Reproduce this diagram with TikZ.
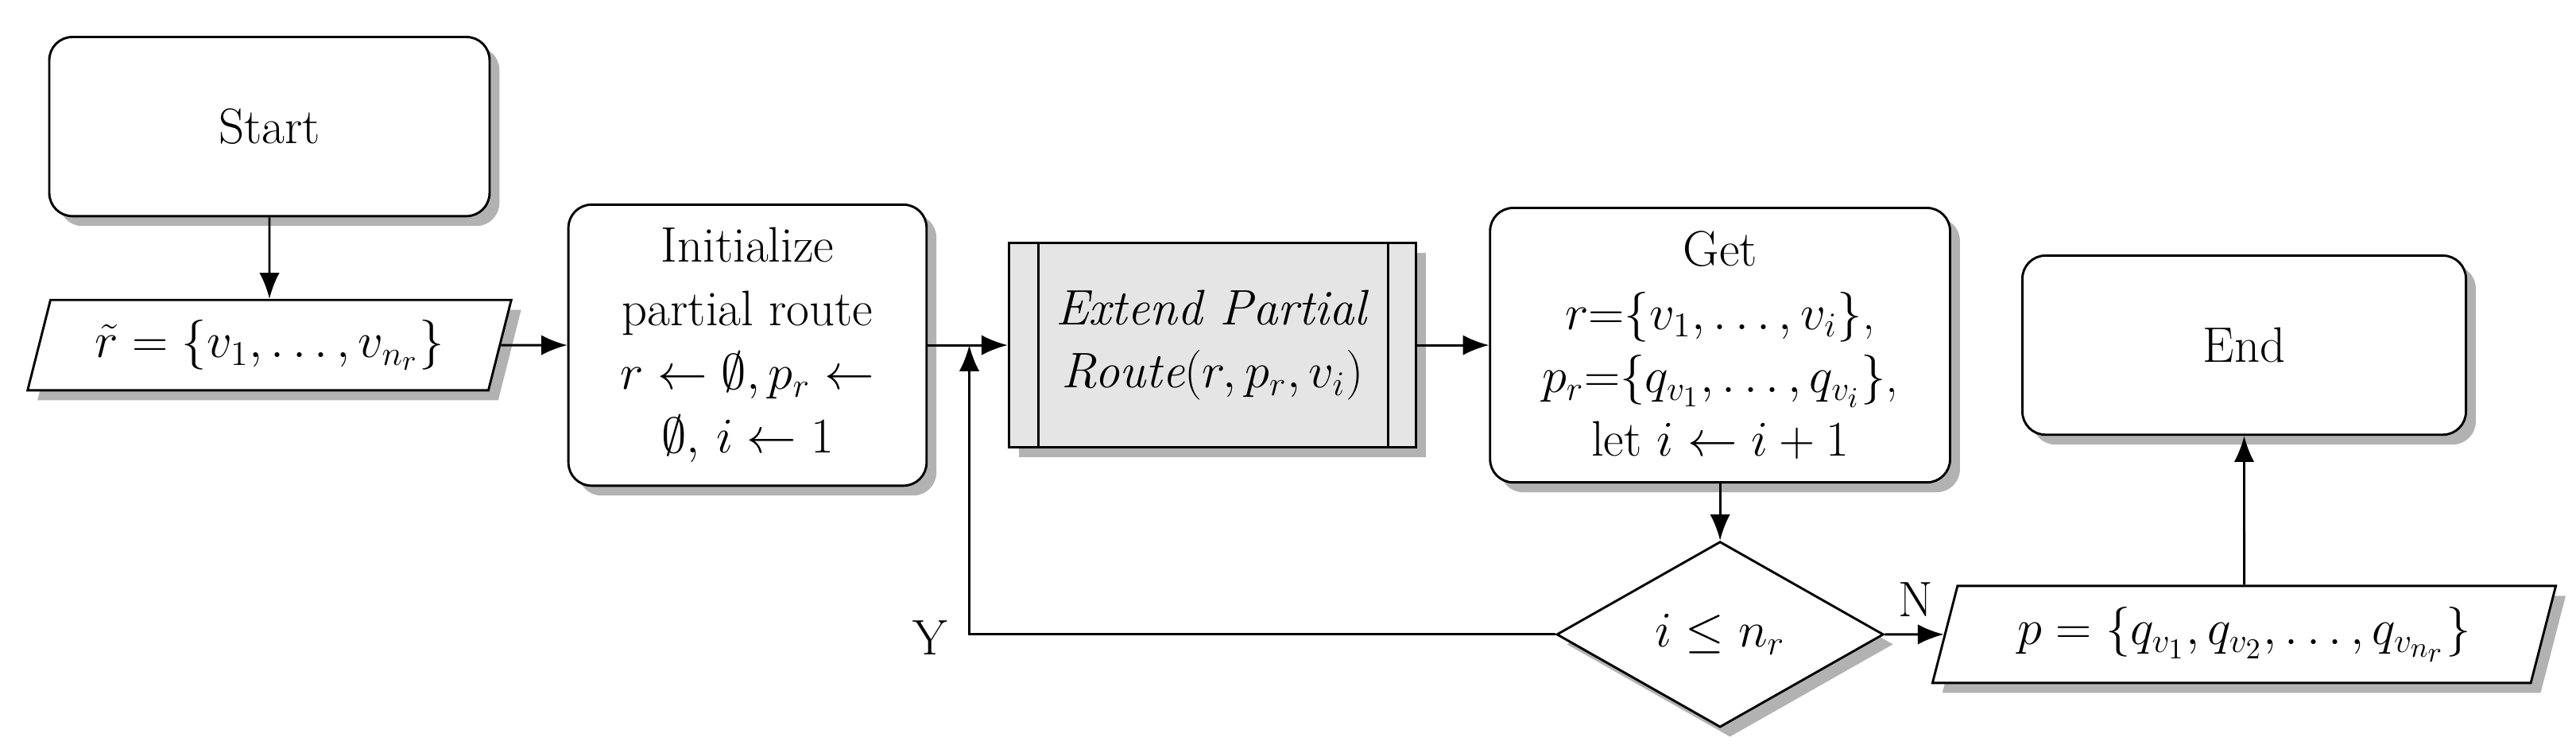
\documentclass[tikz,border=0pt]{standalone}
\usetikzlibrary{shapes.geometric,shadows,arrows.meta}
\begin{document}
\begin{tikzpicture}[x=0.02cm,y=-0.02cm,
 sh/.style={drop shadow={shadow xshift=0.12cm,shadow yshift=-0.12cm,fill=black!30,opacity=1}},
 box/.style={draw,thick,rounded corners=8pt,fill=white,sh,align=center,font=\LARGE,inner sep=0pt},
 io/.style={draw,thick,trapezium,trapezium left angle=70,trapezium right angle=110,trapezium stretches=true,fill=white,sh,font=\LARGE,inner sep=0pt},
 arr/.style={thick,-{Latex[length=9pt,width=7pt]}}]
\useasboundingbox (0,0) rectangle (1568,458);
\node[box,minimum width=268*0.02cm,minimum height=109*0.02cm] (start) at (164,77) {Start};
\node[io,minimum width=295*0.02cm,minimum height=55*0.02cm] (in) at (164,210) {$\tilde r=\{v_1,\ldots,v_{n_r}\}$};
\node[box,minimum width=218*0.02cm,minimum height=171*0.02cm] (init) at (455,210) {Initialize\\partial route\\$r\leftarrow\emptyset,p_r\leftarrow$\\$\emptyset,\,i\leftarrow1$};
\node[draw,thick,fill=black!10,sh,minimum width=248*0.02cm,minimum height=124*0.02cm,align=center,font=\LARGE] (ext) at (738,210) {\textit{Extend Partial}\\\textit{Route}$(r,p_r,v_i)$};
\draw[thick] (632,148) -- (632,272) (845,148) -- (845,272);
\node[box,minimum width=280*0.02cm,minimum height=167*0.02cm] (get) at (1047,210) {Get\\$r{=}\{v_1,\ldots,v_i\}$,\\$p_r{=}\{q_{v_1},\ldots,q_{v_i}\}$,\\let $i\leftarrow i+1$};
\node[box,minimum width=270*0.02cm,minimum height=109*0.02cm] (end) at (1366,210) {End};
\node[draw,thick,diamond,aspect=1.76,fill=white,sh,minimum width=199*0.02cm,minimum height=113*0.02cm,inner sep=0pt,font=\LARGE] (dec) at (1047,386) {$i\leq n_r$};
\node[io,minimum width=380*0.02cm,minimum height=59*0.02cm] (out) at (1366,386) {$p=\{q_{v_1},q_{v_2},\ldots,q_{v_{n_r}}\}$};
\coordinate (lp) at (590,386);
\coordinate (lj) at (590,210);
\draw[arr] (start) -- (in);
\draw[arr] (in) -- (init);
\draw[arr] (init) -- (ext);
\draw[arr] (ext) -- (get);
\draw[arr] (get) -- (dec);
\draw[arr] (dec) -- (out);
\draw[arr] (out) -- (end);
\draw[arr] (dec.west) -- (lp) -- (lj);
\node[font=\LARGE] (y) at (566,388) {Y};
\node[font=\LARGE] (n) at (1166,365) {N};
\end{tikzpicture}
\end{document}
